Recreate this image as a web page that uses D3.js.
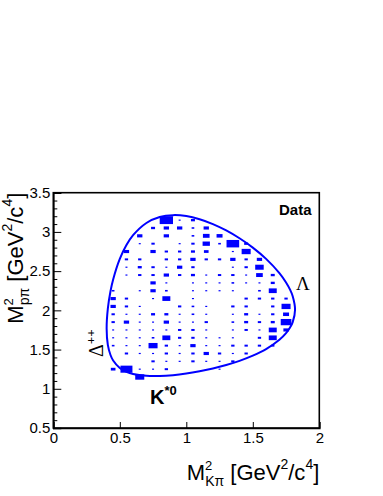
<!DOCTYPE html>
<html>
<head>
<meta charset="utf-8">
<script src="https://cdn.jsdelivr.net/npm/d3@7"></script>
<style>
  body { margin: 0; background: #fff; }
</style>
</head>
<body>
<div id="chart"></div>
<script>
// bin centres (GeV^2/c^4), 0.1 wide
var binX = [0.45, 0.55, 0.65, 0.75, 0.85, 0.95, 1.05, 1.15, 1.25, 1.35, 1.45, 1.55, 1.65, 1.75];
var binY = [3.15, 3.05, 2.95, 2.85, 2.75, 2.65, 2.55, 2.45, 2.35, 2.25, 2.15,
            2.05, 1.95, 1.85, 1.75, 1.65, 1.55, 1.45, 1.35, 1.25, 1.15];

// box contents, one row per binY, one column per binX
var counts = [
  [0, 0, 0, 0, 10, 1.5, 3, 0, 0, 0, 0, 0, 0, 0],
  [0, 0, 0, 3, 4, 4, 2, 4, 0, 0, 0, 0, 0, 0],
  [0, 0, 4, 0, 4, 0, 2, 5, 4.5, 0, 0, 0, 0, 0],
  [0, 0, 1.5, 2.5, 0, 1.5, 2.5, 5.5, 2, 9.5, 3, 0, 0, 0],
  [0, 4, 0, 4, 2.5, 2.5, 3, 3.5, 0, 1.5, 6.8, 0, 0, 0],
  [0, 2.5, 2.5, 0, 2.5, 2.5, 4, 2.5, 2.5, 4, 2.5, 4, 0, 0],
  [0, 1.5, 3, 2.5, 1.5, 4, 2.5, 0, 0, 1.5, 2.5, 6.4, 0, 0],
  [0, 1.5, 2.5, 2.5, 4, 2.5, 3, 1.5, 2.5, 2.5, 1.5, 5, 3, 0],
  [0, 0, 0, 4, 1.5, 0, 1.5, 1.5, 1.5, 2, 1.5, 1.5, 3, 0],
  [2, 0, 1.5, 4, 2, 0, 1.5, 1.5, 1.5, 1.5, 0, 2, 6, 0],
  [4, 2.5, 0, 1.5, 6, 0, 1.5, 0, 0, 0, 2.5, 2.5, 2.5, 2.5],
  [4, 2.5, 1.5, 0, 0, 2.5, 2, 1.5, 0, 2.5, 2.5, 0, 2.5, 6.8],
  [2.5, 1.5, 1.5, 3, 3, 1.5, 2, 1.5, 0, 1.5, 3, 1.5, 2.5, 4.5],
  [2.5, 4, 1.5, 1.5, 4, 1.5, 1.5, 2.5, 0, 2, 3, 2.5, 3, 8],
  [1.5, 1.5, 1.5, 1.5, 1.5, 2.5, 2.5, 1.5, 0, 1.5, 2.5, 1.5, 6, 4],
  [1.5, 1.5, 1.5, 2, 6, 2.5, 2.5, 1.5, 1.5, 1.5, 0, 2.5, 6, 0],
  [2, 1.5, 1.5, 6.8, 2.5, 1.5, 4, 1.5, 1.5, 2.5, 2.5, 2.5, 2.5, 0],
  [0, 2.5, 1.5, 1.5, 2.5, 1.5, 2.5, 4, 2.5, 1.5, 2.5, 0, 0, 0],
  [0, 0, 0, 2.5, 1.5, 1.5, 2.5, 1.5, 1.5, 2.5, 0, 0, 0, 0],
  [3.5, 9, 1.5, 1.5, 2.5, 0, 0, 0, 1.5, 0, 0, 0, 0, 0],
  [0, 0, 6.8, 0, 0, 0, 0, 0, 0, 0, 0, 0, 0, 0]
];

// Dalitz boundary: [M2(Kpi), M2(ppi)]
var boundaryUpper = [[0.401, 1.770], [0.41, 2.023], [0.43, 2.244], [0.45, 2.394], [0.5, 2.656],
  [0.55, 2.832], [0.6, 2.958], [0.7, 3.114], [0.8, 3.190], [0.9, 3.214], [1.0, 3.202],
  [1.1, 3.162], [1.2, 3.100], [1.3, 3.019], [1.4, 2.919], [1.5, 2.800], [1.6, 2.656],
  [1.7, 2.475], [1.75, 2.356], [1.78, 2.264], [1.8, 2.180], [1.8176, 2.009]];
var boundaryLower = [[1.8, 1.850], [1.78, 1.780], [1.75, 1.709], [1.7, 1.624], [1.6, 1.506],
  [1.5, 1.422], [1.4, 1.356], [1.3, 1.303], [1.2, 1.259], [1.1, 1.224], [1.0, 1.195],
  [0.9, 1.174], [0.8, 1.163], [0.7, 1.165], [0.6, 1.189], [0.55, 1.217], [0.5, 1.265],
  [0.45, 1.361], [0.43, 1.431], [0.41, 1.560]];

var xTicks = [0, 0.5, 1, 1.5, 2];
var yTicks = [0.5, 1, 1.5, 2, 2.5, 3, 3.5];

var sans = "'Liberation Sans', Arial, Helvetica, sans-serif";
var serif = "'Liberation Serif', 'Times New Roman', 'DejaVu Serif', serif";

var width = 383, height = 496;
var margin = { top: 192.7, right: 63.7, bottom: 68, left: 53.3 };

var svg = d3.select("#chart").append("svg")
    .attr("width", width)
    .attr("height", height)
    .style("font-family", sans);

var x = d3.scaleLinear().domain([0, 2]).range([margin.left, width - margin.right]);
var y = d3.scaleLinear().domain([0.5, 3.5]).range([height - margin.bottom, margin.top]);
var size = d3.scaleLinear().domain([0, 10]).range([0, 1]);
var half = 0.05;

// boxes
var cells = [];
counts.forEach(function(row, r) {
  row.forEach(function(v, c) {
    if (v > 0) cells.push({ x: binX[c], y: binY[r], v: v });
  });
});

svg.append("g").selectAll("rect")
  .data(cells)
  .enter().append("rect")
    .attr("x", function(d) { return x(d.x - half * size(d.v)); })
    .attr("y", function(d) { return y(d.y + half * size(d.v)); })
    .attr("width", function(d) { return x(d.x + half * size(d.v)) - x(d.x - half * size(d.v)); })
    .attr("height", function(d) { return y(d.y - half * size(d.v)) - y(d.y + half * size(d.v)); })
    .attr("fill", "#0000ff");

// boundary
var line = d3.line()
    .x(function(d) { return x(d[0]); })
    .y(function(d) { return y(d[1]); })
    .curve(d3.curveCatmullRomClosed.alpha(0.5));

svg.append("path")
    .datum(boundaryUpper.concat(boundaryLower))
    .attr("fill", "none")
    .attr("stroke", "#0000ff")
    .attr("stroke-width", 2)
    .attr("d", line);

// axes
svg.append("g")
    .attr("transform", "translate(0," + y(0.5) + ")")
    .call(d3.axisBottom(x).tickValues(xTicks).tickSize(-6).tickPadding(4)
      .tickFormat(function(d) { return d; }));

var yMinor = d3.range(6, 35).map(function(d) { return d / 10; })
    .filter(function(d) { return yTicks.indexOf(d) < 0; });

svg.append("g")
    .attr("transform", "translate(" + x(0) + ",0)")
    .call(d3.axisLeft(y).tickValues(yMinor).tickSize(-4).tickFormat(""))
    .select(".domain").remove();

svg.append("g")
    .attr("transform", "translate(" + x(0) + ",0)")
    .call(d3.axisLeft(y).tickValues(yTicks).tickSize(-8).tickPadding(3)
      .tickFormat(function(d) { return d; }));

svg.selectAll(".tick text")
    .style("font-family", sans)
    .attr("font-size", 15)
    .attr("fill", "#000");
svg.selectAll(".tick line").attr("stroke", "#000");
svg.selectAll(".domain").attr("stroke", "#000").attr("stroke-width", 1.6);

// frame
svg.append("rect")
    .attr("x", x(0)).attr("y", y(3.5))
    .attr("width", x(2) - x(0)).attr("height", y(0.5) - y(3.5))
    .attr("fill", "none").attr("stroke", "#000").attr("stroke-width", 1.6);

// axis titles
function title(g, sub) {
  g.attr("font-size", 22).attr("text-anchor", "end");
  g.append("tspan").text("M");
  g.append("tspan").attr("font-size", 13).attr("dy", -10).text("2");
  g.append("tspan").attr("font-size", 14).attr("dx", -7).attr("dy", 16).text(sub);
  g.append("tspan").attr("dy", -6).text(" [GeV");
  g.append("tspan").attr("font-size", 14).attr("dy", -11).text("2");
  g.append("tspan").attr("dy", 11).text("/c");
  g.append("tspan").attr("font-size", 14).attr("dy", -11).text("4");
  g.append("tspan").attr("dy", 11).text("]");
}

title(svg.append("text").attr("x", x(2)).attr("y", 480), "K\u03c0");
title(svg.append("text").attr("transform", "translate(23," + y(3.5) + ") rotate(-90)"), "p\u03c0");

// labels
svg.append("text")
    .attr("x", 279).attr("y", 215)
    .attr("font-size", 15).attr("font-weight", "bold")
    .text("Data");

svg.append("text")
    .attr("x", 296).attr("y", 290)
    .style("font-family", serif)
    .attr("font-size", 19)
    .text("\u039b");

var delta = svg.append("text")
    .attr("transform", "translate(103,357) rotate(-90)")
    .style("font-family", serif)
    .attr("font-size", 20);
delta.append("tspan").text("\u0394");
delta.append("tspan").attr("font-size", 13).attr("font-weight", "bold").attr("dy", -8).text("++");

var kstar = svg.append("text")
    .attr("x", 150).attr("y", 404)
    .attr("font-size", 20).attr("font-weight", "bold");
kstar.append("tspan").text("K");
kstar.append("tspan").attr("font-size", 13).attr("dy", -9).text("*0");
</script>
</body>
</html>
